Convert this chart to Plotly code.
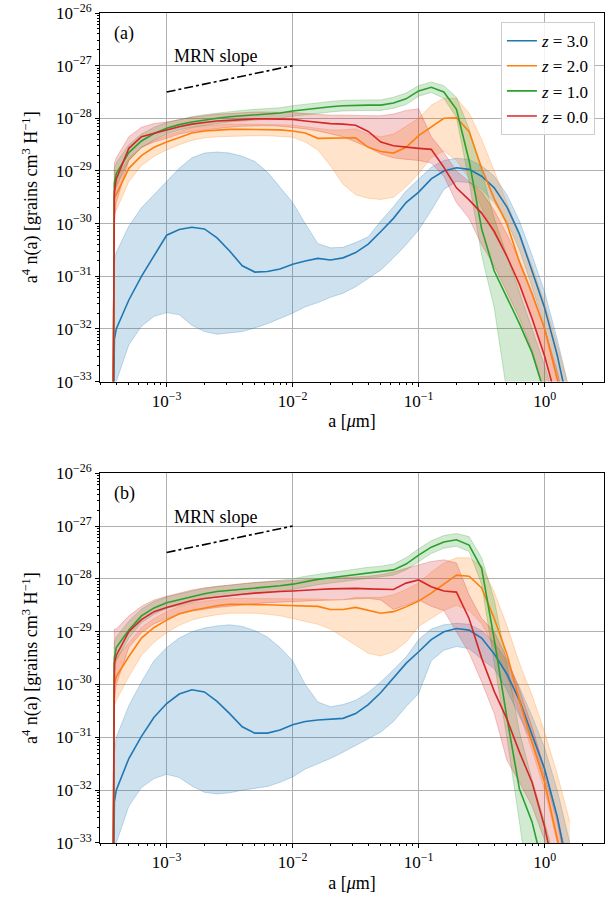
import plotly.graph_objects as go

# grain radius grid, log10(a / micron)
LOG10_A = [-3.43, -3.415, -3.4, -3.3, -3.2, -3.1, -3.0, -2.9, -2.8, -2.7, -2.6, -2.5, -2.4,
           -2.3, -2.2, -2.1, -2.0, -1.9, -1.8, -1.7, -1.6, -1.5, -1.4, -1.3, -1.2, -1.1,
           -1.0, -0.9, -0.8, -0.7, -0.6, -0.5, -0.4, -0.3, -0.2, -0.1, 0.0, 0.1, 0.2]

# ---------- panel (a): log10 of a^4 n(a) ----------
A_Z3_LINE = [-36, -32.2, -32.0, -31.45, -31.0, -30.62, -30.22, -30.11, -30.07, -30.1, -30.27, -30.52, -30.8,
             -30.92, -30.91, -30.86, -30.77, -30.71, -30.66, -30.69, -30.65, -30.55, -30.39, -30.15, -29.9, -29.6,
             -29.4, -29.15, -29.0, -28.94, -28.97, -29.1, -29.32, -29.68, -30.2, -30.9, -31.6, -32.5, -33.6]
A_Z3_UP = [-36, -30.7, -30.55, -30.05, -29.7, -29.45, -29.22, -28.95, -28.75, -28.66, -28.64, -28.66, -28.72,
           -28.82, -29.02, -29.3, -29.6, -30.0, -30.38, -30.46, -30.45, -30.36, -30.25, -29.95, -29.68, -29.38,
           -29.15, -28.93, -28.8, -28.76, -28.78, -28.9, -29.1, -29.45, -29.95, -30.6, -31.3, -32.2, -33.2]
A_Z3_LO = [-36, -33.3, -33.0, -32.3, -31.95, -31.76, -31.69, -31.73, -31.93, -32.05, -32.1, -32.08, -32.05,
           -31.98, -31.9, -31.8, -31.7, -31.58, -31.5, -31.4, -31.32, -31.2, -31.04, -30.88, -30.65, -30.4,
           -30.12, -29.75, -29.35, -29.2, -29.22, -29.35, -29.6, -29.95, -30.5, -31.2, -31.95, -33.0, -34.0]

A_Z2_LINE = [-36, -29.5, -29.45, -28.95, -28.71, -28.55, -28.45, -28.36, -28.28, -28.24, -28.22, -28.21, -28.21,
             -28.21, -28.21, -28.22, -28.24, -28.28, -28.38, -28.38, -28.37, -28.37, -28.55, -28.63, -28.66, -28.55,
             -28.33, -28.16, -28.0, -27.99, -28.25, -28.95, -29.53, -30.0, -30.73, -31.33, -32.0, -32.95, -34.0]
A_Z2_UP = [-36, -29.2, -29.15, -28.75, -28.55, -28.42, -28.33, -28.25, -28.18, -28.14, -28.12, -28.11, -28.11,
           -28.11, -28.11, -28.12, -28.13, -28.16, -28.2, -28.22, -28.22, -28.2, -28.3, -28.35, -28.3, -28.15,
           -28.0, -27.75, -27.62, -27.62, -27.9, -28.4, -29.0, -29.6, -30.2, -30.8, -31.5, -32.3, -33.2]
A_Z2_LO = [-36, -29.8, -29.75, -29.2, -28.9, -28.72, -28.6, -28.5, -28.42, -28.37, -28.35, -28.34, -28.33,
           -28.33, -28.33, -28.34, -28.36, -28.45, -28.6, -28.9, -29.25, -29.45, -29.52, -29.54, -29.5, -29.3,
           -29.05, -28.75, -28.62, -28.8, -29.15, -29.7, -30.2, -30.6, -31.2, -31.8, -32.5, -33.4, -34.4]

A_Z1_LINE = [-36, -29.23, -29.05, -28.65, -28.43, -28.29, -28.19, -28.12, -28.07, -28.03, -28.0, -27.97, -27.95,
             -27.93, -27.92, -27.9, -27.86, -27.83, -27.8, -27.78, -27.76, -27.75, -27.75, -27.75, -27.71, -27.63,
             -27.48, -27.41, -27.5, -27.83, -28.8, -30.1, -30.9, -31.4, -31.9, -32.45, -33.2, -34.0, -35.0]
A_Z1_UP = [-36, -28.95, -28.85, -28.5, -28.3, -28.17, -28.08, -28.02, -27.97, -27.93, -27.9, -27.87, -27.85,
           -27.83, -27.82, -27.8, -27.76, -27.73, -27.7, -27.68, -27.66, -27.65, -27.65, -27.65, -27.6, -27.52,
           -27.38, -27.31, -27.38, -27.6, -28.2, -29.0, -29.9, -30.6, -31.3, -32.0, -32.7, -33.5, -34.5]
A_Z1_LO = [-36, -29.5, -29.3, -28.8, -28.56, -28.41, -28.3, -28.22, -28.17, -28.13, -28.1, -28.07, -28.05,
           -28.03, -28.02, -28.0, -27.96, -27.93, -27.9, -27.88, -27.86, -27.85, -27.85, -27.85, -27.81, -27.74,
           -27.58, -27.51, -27.62, -27.98, -29.2, -30.6, -31.6, -33.2, -35.0, -36, -36, -36, -36]

A_Z0_LINE = [-36, -29.4, -29.15, -28.57, -28.35, -28.28, -28.22, -28.16, -28.11, -28.08, -28.05, -28.04, -28.02,
             -28.01, -28.01, -28.01, -28.02, -28.05, -28.08, -28.1, -28.11, -28.13, -28.25, -28.45, -28.52, -28.55,
             -28.57, -28.59, -28.93, -29.32, -29.55, -29.8, -30.15, -30.62, -31.15, -31.8, -32.52, -33.4, -34.5]
A_Z0_UP = [-36, -28.85, -28.75, -28.35, -28.17, -28.1, -28.07, -28.02, -27.98, -27.95, -27.92, -27.91, -27.89,
           -27.88, -27.88, -27.88, -27.89, -27.91, -27.93, -27.94, -27.94, -27.95, -27.95, -27.95, -27.92, -27.85,
           -27.82, -28.35, -28.65, -29.0, -29.2, -29.4, -29.75, -30.2, -30.7, -31.3, -32.0, -32.8, -33.8]
A_Z0_LO = [-36, -30.0, -29.6, -28.8, -28.55, -28.45, -28.38, -28.3, -28.25, -28.22, -28.19, -28.17, -28.15,
           -28.14, -28.14, -28.15, -28.17, -28.2, -28.24, -28.3, -28.35, -28.45, -28.55, -28.68, -28.75, -28.78,
           -28.8, -28.85, -29.1, -29.6, -29.9, -30.4, -30.8, -31.3, -31.8, -32.4, -33.2, -34.2, -35.2]

# ---------- panel (b) ----------
B_Z3_LINE = [-36, -32.22, -32.0, -31.4, -30.98, -30.62, -30.36, -30.18, -30.1, -30.14, -30.32, -30.55, -30.8,
             -30.92, -30.92, -30.86, -30.76, -30.7, -30.67, -30.66, -30.64, -30.55, -30.38, -30.15, -29.88, -29.6,
             -29.38, -29.15, -29.0, -28.94, -28.97, -29.12, -29.42, -29.8, -30.3, -30.95, -31.6, -32.5, -33.7]
B_Z3_UP = [-36, -31.3, -31.0, -30.4, -29.95, -29.55, -29.3, -29.12, -29.0, -28.93, -28.89, -28.87, -28.9,
           -28.98, -29.1, -29.3, -29.55, -30.0, -30.33, -30.42, -30.38, -30.3, -30.15, -29.95, -29.72, -29.48,
           -29.15, -28.95, -28.87, -28.84, -28.86, -28.98, -29.2, -29.55, -30.05, -30.6, -31.2, -32.0, -33.0]
B_Z3_LO = [-36, -33.3, -33.0, -32.3, -31.95, -31.78, -31.7, -31.76, -31.92, -32.04, -32.07, -32.05, -32.0,
           -31.97, -31.93, -31.85, -31.75, -31.6, -31.5, -31.4, -31.28, -31.15, -31.03, -30.9, -30.7, -30.42,
           -30.17, -29.55, -29.35, -29.28, -29.32, -29.52, -29.7, -30.1, -30.6, -31.1, -31.75, -32.6, -33.8]

B_Z2_LINE = [-36, -30.0, -29.85, -29.47, -29.12, -28.92, -28.78, -28.66, -28.6, -28.55, -28.51, -28.48, -28.48,
             -28.48, -28.49, -28.5, -28.51, -28.52, -28.52, -28.58, -28.58, -28.54, -28.6, -28.65, -28.62, -28.53,
             -28.42, -28.27, -28.1, -27.93, -27.95, -28.17, -28.75, -29.42, -30.3, -31.1, -31.85, -32.95, -34.0]
B_Z2_UP = [-36, -29.6, -29.5, -29.2, -28.92, -28.75, -28.62, -28.52, -28.46, -28.42, -28.39, -28.37, -28.37,
           -28.37, -28.38, -28.38, -28.38, -28.38, -28.38, -28.4, -28.4, -28.35, -28.35, -28.35, -28.3, -28.2,
           -28.08, -27.87, -27.7, -27.6, -27.6, -27.75, -28.25, -28.88, -29.6, -30.2, -30.9, -31.7, -32.6]
B_Z2_LO = [-36, -30.4, -30.3, -29.85, -29.45, -29.2, -29.02, -28.88, -28.78, -28.72, -28.68, -28.65, -28.65,
           -28.65, -28.67, -28.7, -28.75, -28.8, -28.86, -28.95, -29.1, -29.25, -29.41, -29.46, -29.38, -29.2,
           -28.9, -28.75, -28.6, -28.5, -28.6, -28.85, -29.3, -29.85, -30.55, -31.25, -32.0, -33.0, -34.0]

B_Z1_LINE = [-36, -29.5, -29.3, -28.97, -28.7, -28.55, -28.45, -28.39, -28.33, -28.28, -28.24, -28.22, -28.19,
             -28.17, -28.15, -28.13, -28.1, -28.05, -28.01, -27.98, -27.95, -27.91, -27.88, -27.86, -27.83, -27.72,
             -27.55, -27.4, -27.3, -27.26, -27.36, -27.8, -29.15, -30.62, -31.98, -32.6, -33.5, -34.5, -35.5]
B_Z1_UP = [-36, -29.2, -29.1, -28.8, -28.57, -28.43, -28.34, -28.28, -28.23, -28.18, -28.14, -28.12, -28.09,
           -28.07, -28.05, -28.03, -28.0, -27.95, -27.91, -27.88, -27.85, -27.81, -27.78, -27.76, -27.72, -27.6,
           -27.43, -27.28, -27.18, -27.14, -27.2, -27.6, -28.4, -29.6, -30.9, -31.8, -32.6, -33.5, -34.5]
B_Z1_LO = [-36, -29.8, -29.55, -29.12, -28.83, -28.67, -28.56, -28.5, -28.44, -28.38, -28.34, -28.32, -28.29,
           -28.27, -28.25, -28.23, -28.2, -28.15, -28.11, -28.08, -28.05, -28.01, -27.98, -27.96, -27.93, -27.83,
           -27.67, -27.52, -27.42, -27.38, -27.48, -28.1, -29.6, -31.0, -32.6, -34.5, -36, -36, -36]

B_Z0_LINE = [-36, -29.6, -29.45, -29.0, -28.77, -28.62, -28.54, -28.47, -28.41, -28.37, -28.34, -28.32, -28.29,
             -28.27, -28.25, -28.24, -28.23, -28.21, -28.2, -28.19, -28.18, -28.18, -28.19, -28.2, -28.2, -28.08,
             -28.02, -28.15, -28.23, -28.25, -28.75, -29.5, -30.13, -30.65, -31.28, -31.85, -32.7, -33.8, -35.0]
B_Z0_UP = [-36, -28.95, -28.95, -28.7, -28.52, -28.4, -28.33, -28.27, -28.21, -28.17, -28.14, -28.12, -28.09,
           -28.07, -28.05, -28.04, -28.03, -28.01, -28.0, -27.99, -27.98, -27.97, -27.95, -27.92, -27.87, -27.8,
           -27.73, -27.67, -27.64, -27.7, -28.3, -28.75, -29.0, -29.5, -30.1, -30.8, -31.6, -32.5, -33.5]
B_Z0_LO = [-36, -30.3, -30.0, -29.3, -29.02, -28.85, -28.75, -28.67, -28.61, -28.57, -28.54, -28.52, -28.49,
           -28.47, -28.45, -28.44, -28.43, -28.41, -28.4, -28.39, -28.38, -28.37, -28.37, -28.4, -28.58, -28.5,
           -28.4, -28.52, -28.6, -29.0, -29.4, -29.95, -30.55, -31.43, -31.85, -32.3, -32.95, -34.0, -35.0]

SERIES_NAMES = ["<i>z</i> = 3.0", "<i>z</i> = 2.0", "<i>z</i> = 1.0", "<i>z</i> = 0.0"]
SERIES_RGB = [(31, 119, 180), (255, 127, 14), (44, 160, 44), (214, 39, 40)]

MRN_A = [1e-3, 1e-2]
MRN_Y = [3.16e-28, 1e-27]

Y_TICKS = [-33, -32, -31, -30, -29, -28, -27, -26]
X_TICKS = [-3, -2, -1, 0]

PANEL_A = [(A_Z3_LINE, A_Z3_UP, A_Z3_LO), (A_Z2_LINE, A_Z2_UP, A_Z2_LO),
           (A_Z1_LINE, A_Z1_UP, A_Z1_LO), (A_Z0_LINE, A_Z0_UP, A_Z0_LO)]
PANEL_B = [(B_Z3_LINE, B_Z3_UP, B_Z3_LO), (B_Z2_LINE, B_Z2_UP, B_Z2_LO),
           (B_Z1_LINE, B_Z1_UP, B_Z1_LO), (B_Z0_LINE, B_Z0_UP, B_Z0_LO)]

FONT = "Liberation Serif"
a_vals = [10 ** v for v in LOG10_A]


def pw(v):
    return [10 ** x for x in v]


def rgba(c, al):
    return "rgba(%d,%d,%d,%.2f)" % (c[0], c[1], c[2], al)


fig = go.Figure()
for pi, (panel, xa, ya) in enumerate([(PANEL_A, "x", "y"), (PANEL_B, "x2", "y2")]):
    for (line, up, lo), rgb in zip(panel, SERIES_RGB):
        fig.add_trace(go.Scatter(x=a_vals, y=pw(up), xaxis=xa, yaxis=ya, mode="lines",
                                 line=dict(color=rgba(rgb, 0.25), width=1), showlegend=False,
                                 hoverinfo="skip"))
        fig.add_trace(go.Scatter(x=a_vals, y=pw(lo), xaxis=xa, yaxis=ya, mode="lines",
                                 line=dict(color=rgba(rgb, 0.25), width=1), fill="tonexty",
                                 fillcolor=rgba(rgb, 0.22), showlegend=False, hoverinfo="skip"))
    for (line, up, lo), rgb, name in zip(panel, SERIES_RGB, SERIES_NAMES):
        fig.add_trace(go.Scatter(x=a_vals, y=pw(line), xaxis=xa, yaxis=ya, mode="lines",
                                 line=dict(color=rgba(rgb, 1), width=1.6), name=name,
                                 showlegend=(pi == 0)))
    fig.add_trace(go.Scatter(x=MRN_A, y=MRN_Y, xaxis=xa, yaxis=ya, mode="lines",
                             line=dict(color="black", width=1.6, dash="dashdot"), showlegend=False))

y_minor = [m * 10.0 ** k for k in range(-33, -26) for m in range(2, 10)]
x_minor = [m * 10.0 ** k for k in range(-4, 1) for m in range(2, 10)]
x_minor = [v for v in x_minor if 2.96e-4 <= v <= 2.96]

common_x = dict(type="log", range=[-3.529, 0.471], tickmode="array", automargin=False,
                tickvals=[10 ** t for t in X_TICKS],
                ticktext=["10<sup>\u2212%d</sup>" % (-t) if t < 0 else "10<sup>0</sup>" for t in X_TICKS],
                showgrid=True, gridcolor="#b0b0b0", gridwidth=1, showline=True, linecolor="black",
                linewidth=1, mirror=True, ticks="outside", ticklen=4, tickcolor="black",
                tickfont=dict(family=FONT, size=17, color="black"),
                minor=dict(tickmode="array", tickvals=x_minor, ticks="outside", ticklen=2,
                           tickcolor="black", showgrid=False),
                title=dict(text="a [<i>\u03bc</i>m]", font=dict(family=FONT, size=18, color="black"),
                           standoff=4), zeroline=False)
common_y = dict(type="log", range=[-33, -26], tickmode="array", automargin=False,
                tickvals=[10.0 ** t for t in Y_TICKS],
                ticktext=["10<sup>\u2212%d</sup>" % (-t) for t in Y_TICKS],
                showgrid=True, gridcolor="#b0b0b0", gridwidth=1, showline=True, linecolor="black",
                linewidth=1, mirror=True, ticks="outside", ticklen=4, tickcolor="black",
                tickfont=dict(family=FONT, size=17, color="black"),
                minor=dict(tickmode="array", tickvals=y_minor, ticks="outside", ticklen=2,
                           tickcolor="black", showgrid=False),
                title=dict(text="a<sup>4</sup> n(a) [grains cm<sup>3</sup> H<sup>\u22121</sup>]",
                           font=dict(family=FONT, size=18, color="black"), standoff=13),
                zeroline=False)

fig.update_layout(
    width=615, height=909,
    margin=dict(l=100, r=11, t=13, b=66, autoexpand=False),
    paper_bgcolor="white", plot_bgcolor="white",
    xaxis=dict(common_x, domain=[0, 1], anchor="y"),
    yaxis=dict(common_y, domain=[0.5559, 1], anchor="x"),
    xaxis2=dict(common_x, domain=[0, 1], anchor="y2"),
    yaxis2=dict(common_y, domain=[0, 0.4455], anchor="x2"),
    legend=dict(x=0.982, y=0.989, xanchor="right", yanchor="top", bgcolor="rgba(255,255,255,0.85)",
                bordercolor="#cccccc", borderwidth=1, font=dict(family=FONT, size=17, color="black"),
                itemwidth=30, tracegroupgap=2, traceorder="normal"),
    showlegend=True,
)

for xr, yr in [("x", "y"), ("x2", "y2")]:
    fig.add_annotation(x=-2.96, y=-26.82, xref=xr, yref=yr, text="MRN slope", showarrow=False,
                       xanchor="left", yanchor="middle", font=dict(family=FONT, size=18, color="black"))
fig.add_annotation(x=0.024, y=0.975, xref="paper", yref="paper", text="(a)", showarrow=False,
                   xanchor="left", yanchor="middle", font=dict(family=FONT, size=18, color="black"))
fig.add_annotation(x=0.024, y=0.4455 - 0.0245, xref="paper", yref="paper", text="(b)", showarrow=False,
                   xanchor="left", yanchor="middle", font=dict(family=FONT, size=18, color="black"))

# remove the default 8 px page margin so the figure sits at the window's corner
fig.write_html("out.html", config={"displayModeBar": False},
               post_script="document.body.style.margin='0px';")
